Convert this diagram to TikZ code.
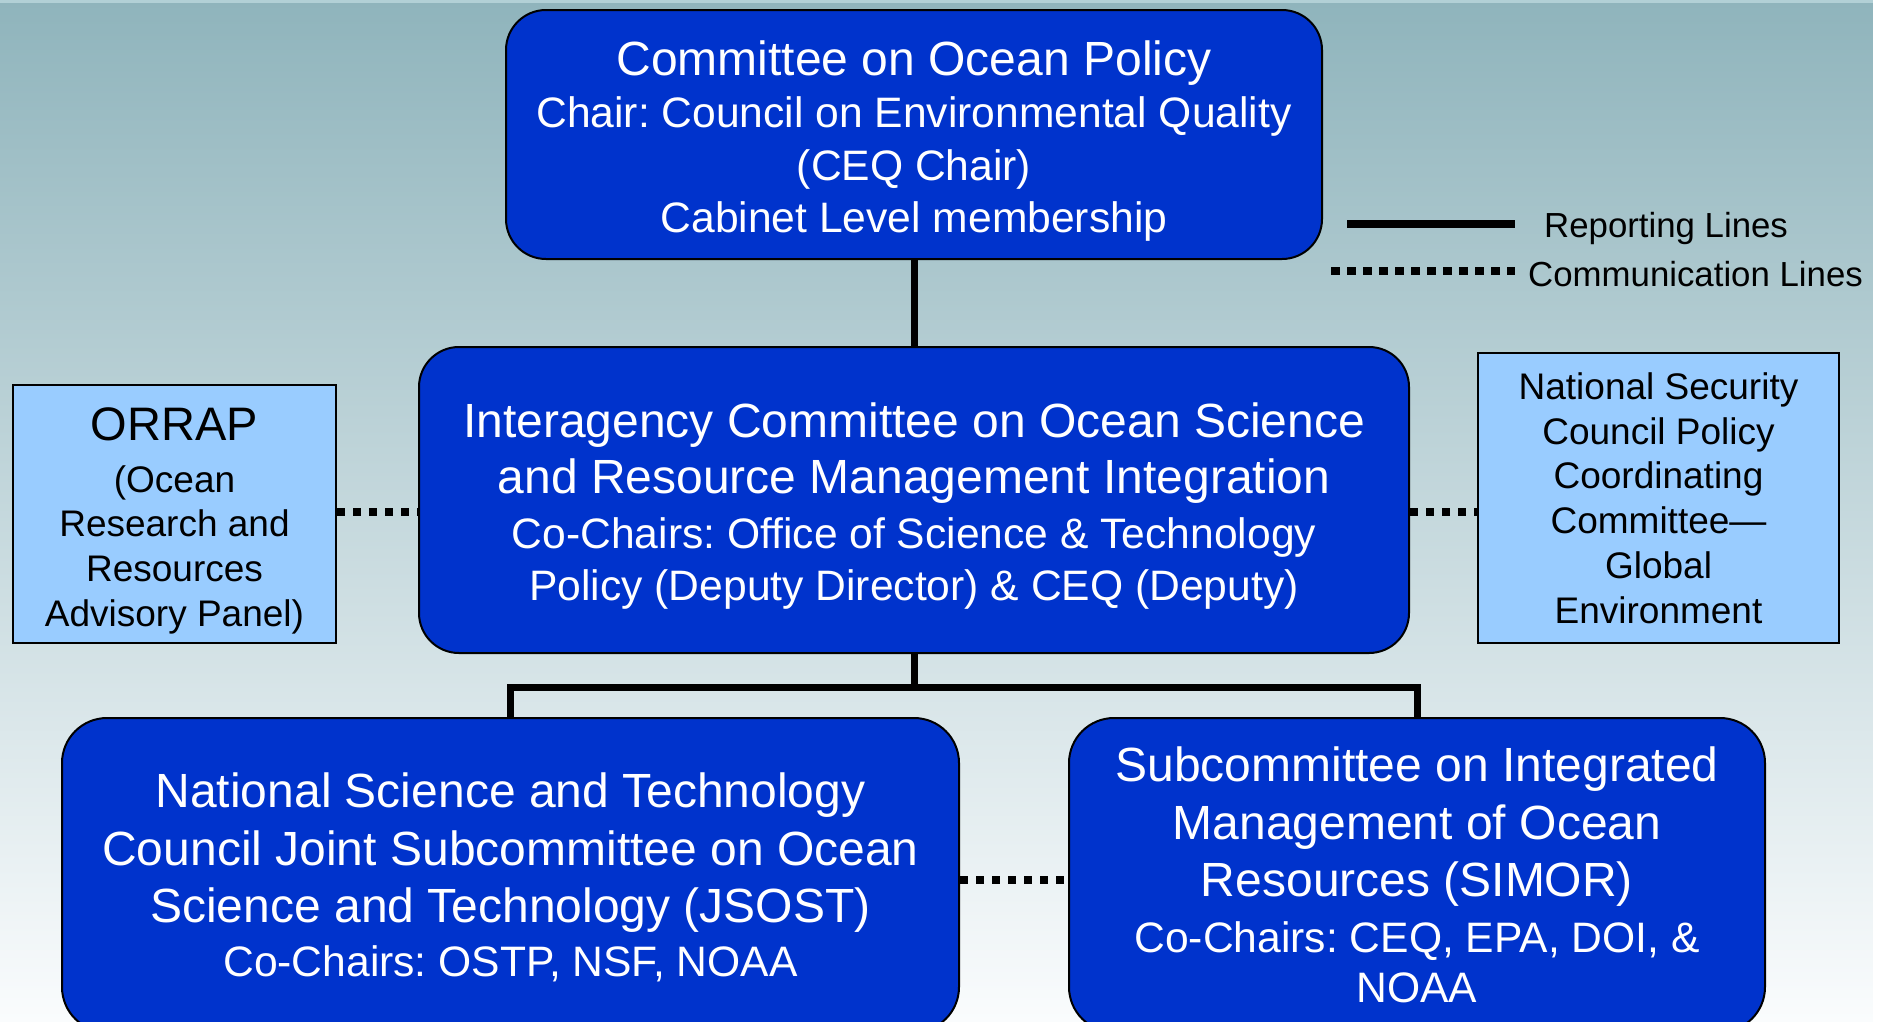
\documentclass[tikz,border=0pt]{standalone}
\usepackage{fontspec}
\setmainfont{Liberation Sans}
\frenchspacing
\definecolor{bgtop}{RGB}{143,180,188}
\definecolor{bgtopl}{RGB}{178,208,214}
\definecolor{bgbot}{RGB}{250,252,253}
\definecolor{boxblue}{RGB}{0,51,204}
\definecolor{boxlight}{RGB}{153,204,255}
\tikzset{
  bluebox/.style={draw=black, line width=2pt, fill=boxblue, rounded corners=40pt, inner sep=0pt},
  lightbox/.style={draw=black, line width=2pt, fill=boxlight, inner sep=0pt},
  bluetext/.style={text=white, align=center, inner sep=0pt},
  blacktext/.style={text=black, align=center, inner sep=0pt},
  report/.style={line width=7pt, black},
  comm/.style={line width=8pt, black, dash pattern=on 8pt off 8pt},
  legtext/.style={anchor=base west, inner sep=0pt, text=black, font=\fontsize{34.8}{40}\selectfont},
}
\begin{document}
\begin{tikzpicture}[x=1pt,y=-1pt]
\useasboundingbox (0,0) rectangle (1879,1021);
\clip (0,0) rectangle (1879,1021);
\shade[top color=bgtop,bottom color=bgbot] (0,0) rectangle (1873,1021);
\fill[white] (1873,0) rectangle (1879,1021);
\fill[bgtopl] (0,0) rectangle (1873,3);

% boxes
\node[bluebox, minimum width=816pt, minimum height=249pt] (cop) at (914,134.5) {};
\node[bluetext, yshift=-6.5pt, font=\fontsize{42.6}{52.5}\selectfont] (copt) at (cop.center)
  {{\fontsize{48}{52.5}\selectfont Committee on Ocean Policy}\\Chair: Council on Environmental Quality\\(CEQ Chair)\\Cabinet Level membership};

\node[bluebox, minimum width=990pt, minimum height=306pt] (mid) at (914,500) {};
\node[bluetext, yshift=-6pt, font=\fontsize{42.6}{51.6}\selectfont] (midt) at (mid.center)
  {{\fontsize{48}{51.6}\selectfont Interagency Committee on Ocean Science}\\[4.7pt]{\fontsize{48}{51.6}\selectfont and Resource Management Integration}\\[3.4pt]Co-Chairs: Office of Science \& Technology\\Policy (Deputy Director) \& CEQ (Deputy)};

\node[lightbox, minimum width=323pt, minimum height=258pt] (orrap) at (174.5,514) {};
\node[blacktext, yshift=-7pt, font=\fontsize{37}{44.7}\selectfont] (orrapt) at (orrap.center)
  {{\fontsize{47}{44.7}\selectfont ORRAP}\\[6.8pt](Ocean\\Research and\\Resources\\Advisory Panel)};

\node[lightbox, minimum width=361pt, minimum height=290pt] (nsc) at (1658.5,498) {};
\node[blacktext, font=\fontsize{37}{44.8}\selectfont] (nsct) at (nsc.center)
  {National Security\\Council Policy\\Coordinating\\Committee—\\Global\\Environment};

\node[bluebox, rounded corners=45pt, minimum width=897pt, minimum height=314pt] (bl) at (510.5,875) {};
\node[bluetext, yshift=-2.5pt, font=\fontsize{42.6}{54}\selectfont] (blt) at (bl.center)
  {{\fontsize{48}{54}\selectfont National Science and Technology}\\[3.5pt]{\fontsize{48}{54}\selectfont Council Joint Subcommittee on Ocean}\\[3.5pt]{\fontsize{48}{54}\selectfont Science and Technology (JSOST)}\\Co-Chairs: OSTP, NSF, NOAA};

\node[bluebox, rounded corners=45pt, minimum width=696pt, minimum height=314pt] (br) at (1417,875) {};
\node[bluetext, font=\fontsize{42.6}{50.4}\selectfont] (brt) at (br.center)
  {{\fontsize{48}{50.4}\selectfont Subcommittee on Integrated}\\[7.1pt]{\fontsize{48}{50.4}\selectfont Management of Ocean}\\[7.1pt]{\fontsize{48}{50.4}\selectfont Resources (SIMOR)}\\[4.7pt]Co-Chairs: CEQ, EPA, DOI, \&\\NOAA};

% reporting lines
\draw[report] (cop.south) -- (mid.north);
\draw[report] (mid.south) -- ++(0,33) -| (bl.north);
\draw[report] (mid.south) -- ++(0,33) -| (br.north);

% communication lines
\draw[comm] (orrap.east |- 0,512) -- (mid.west |- 0,512);
\draw[comm] (mid.east |- 0,512) -- (nsc.west |- 0,512);
\draw[comm] (bl.east |- 0,880) -- (br.west |- 0,880);

% legend
\coordinate (r1) at (1347,224);
\coordinate (r2) at (1515,224);
\draw[black, line width=8pt] (r1) -- (r2);
\node[legtext] (rl) at (1544,237) {Reporting Lines};
\coordinate (c1) at (1331,271);
\coordinate (c2) at (1515,271);
\draw[black, line width=8pt, dash pattern=on 9pt off 7pt] (c1) -- (c2);
\node[legtext] (cl) at (1528,286) {Communication Lines};
\end{tikzpicture}
\end{document}
